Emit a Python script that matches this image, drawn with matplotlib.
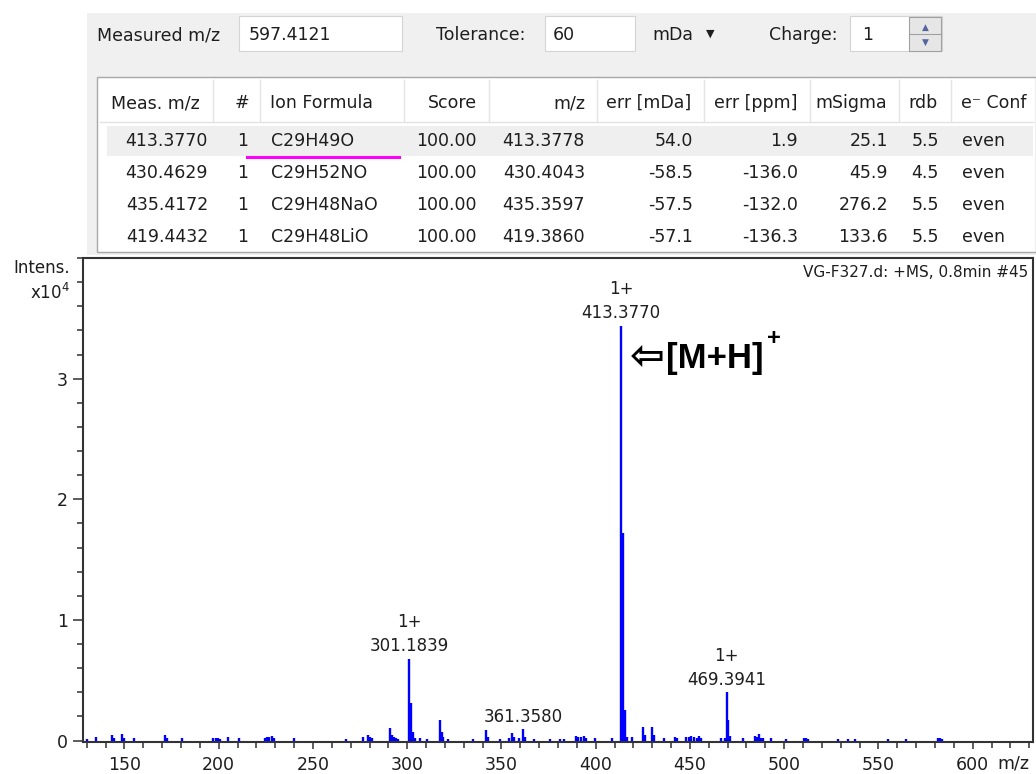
import matplotlib
matplotlib.use('Agg')
import matplotlib.pyplot as plt
from matplotlib.patches import Rectangle
from matplotlib.lines import Line2D
from matplotlib.ticker import MultipleLocator, FixedLocator

W, H = 1036, 774

# ---- formula search table ----
measured_mz = '597.4121'
tolerance = '60'
tol_unit = 'mDa'
charge = '1'

col_names = ['Meas. m/z', '#', 'Ion Formula', 'Score', 'm/z', 'err [mDa]',
             'err [ppm]', 'mSigma', 'rdb', 'e\u207b Conf']
meas_mz = ['413.3770', '430.4629', '435.4172', '419.4432']
rank = ['1', '1', '1', '1']
ion_formula = ['C29H49O', 'C29H52NO', 'C29H48NaO', 'C29H48LiO']
score = ['100.00', '100.00', '100.00', '100.00']
calc_mz = ['413.3778', '430.4043', '435.3597', '419.3860']
err_mda = ['54.0', '-58.5', '-57.5', '-57.1']
err_ppm = ['1.9', '-136.0', '-132.0', '-136.3']
msigma = ['25.1', '45.9', '276.2', '133.6']
rdb = ['5.5', '4.5', '5.5', '5.5']
e_conf = ['even', 'even', 'even', 'even']

# ---- spectrum (intensity in units of 1e4) ----
peak_mz = [130.0, 135.0, 143.6, 144.6, 148.6, 149.6, 154.8, 171.3, 172.3, 180.5,
           196.9, 198.3, 199.7, 200.9, 205.1, 210.8, 224.3, 225.5, 226.8, 228.2,
           229.1, 240.2, 267.5, 276.4, 279.3, 280.2, 281.2, 290.9, 291.9, 293.0,
           294.1, 295.1, 302.19, 303.19, 304.2, 306.6, 310.5, 317.2, 318.2, 319.2,
           321.4, 335.0, 341.7, 342.7, 349.1, 354.0, 355.4, 356.4, 359.5, 362.4,
           367.2, 376.0, 381.3, 383.0, 389.7, 390.8, 392.0, 393.6, 394.6, 399.4,
           408.6, 414.38, 415.38, 416.4, 419.3, 425.1, 426.1, 430.1, 431.1, 436.2,
           442.1, 443.2, 447.7, 449.5, 450.5, 452.1, 453.6, 454.9, 456.0, 466.3,
           468.4, 470.4, 471.4, 478.4, 484.6, 485.6, 486.4, 487.5, 488.5, 492.8,
           501.0, 510.4, 511.4, 512.4, 528.6, 533.8, 537.4, 555.0, 564.8, 581.6,
           582.6, 583.5]
peak_int = [0.016, 0.028, 0.042, 0.022, 0.055, 0.022, 0.018, 0.045, 0.022, 0.018,
            0.018, 0.018, 0.018, 0.016, 0.028, 0.018, 0.018, 0.028, 0.032, 0.038,
            0.022, 0.018, 0.016, 0.028, 0.045, 0.028, 0.018, 0.100, 0.045, 0.028,
            0.022, 0.016, 0.310, 0.070, 0.022, 0.022, 0.016, 0.170, 0.070, 0.028,
            0.016, 0.016, 0.085, 0.032, 0.016, 0.020, 0.065, 0.032, 0.018, 0.032,
            0.016, 0.016, 0.016, 0.016, 0.038, 0.028, 0.032, 0.038, 0.020, 0.020,
            0.018, 1.720, 0.250, 0.032, 0.028, 0.110, 0.050, 0.115, 0.045, 0.022,
            0.028, 0.020, 0.028, 0.032, 0.040, 0.032, 0.022, 0.038, 0.022, 0.018,
            0.020, 0.170, 0.040, 0.018, 0.040, 0.032, 0.055, 0.022, 0.018, 0.018,
            0.016, 0.018, 0.018, 0.016, 0.016, 0.016, 0.016, 0.016, 0.016, 0.018,
            0.018, 0.016]

label_mz = [301.1839, 361.3580, 413.3770, 469.3941]
label_int = [0.68, 0.094, 3.44, 0.40]
label_charge = ['1+', '', '1+', '1+']

x_ticks = [150, 200, 250, 300, 350, 400, 450, 500, 550, 600]
y_ticks = [0, 1, 2, 3]

TXT = '#1e1e1e'
UI_FS = 12.5

fig = plt.figure(figsize=(W / 100, H / 100), dpi=100)
fig.patch.set_facecolor('white')


def fbox(x0, y0, x1, y1, fc, ec='none', lw=1.0, z=1):
    fig.add_artist(Rectangle((x0 / W, 1 - y1 / H), (x1 - x0) / W, (y1 - y0) / H,
                             transform=fig.transFigure, facecolor=fc,
                             edgecolor=ec, linewidth=lw, zorder=z))


def fline(x0, y0, x1, y1, color, lw=1.0, z=2):
    fig.add_artist(Line2D([x0 / W, x1 / W], [1 - y0 / H, 1 - y1 / H],
                          transform=fig.transFigure, color=color, lw=lw, zorder=z))


def ftext(x, y, s, ha='left', size=UI_FS, **kw):
    fig.text(x / W, 1 - y / H, s, ha=ha, va='center', fontsize=size,
             color=kw.pop('color', TXT), zorder=5, **kw)


# top control bar
fbox(87, 13, 1036, 255, '#f0f0f0', z=0)
ftext(97, 35, 'Measured m/z')
fbox(239, 16, 402, 51, 'white', '#d4d4d4', 0.8)
ftext(249, 35, measured_mz)
ftext(436, 35, 'Tolerance:')
fbox(545, 16, 635, 51, 'white', '#d4d4d4', 0.8)
ftext(553, 35, tolerance)
ftext(652, 35, tol_unit)
ftext(710, 34, '\u25bc', ha='center', size=8)
ftext(769, 35, 'Charge:')
fbox(850, 16, 942, 51, 'white', '#d4d4d4', 0.8)
ftext(862, 35, charge)
fbox(909, 17, 941, 51, '#e6e6e6', '#a0a0a0', 0.8, z=2)
fline(909, 34, 941, 34, '#a0a0a0', 0.8, z=3)
ftext(925, 27, '\u25b2', ha='center', size=6.5, color='#55659f')
ftext(925, 42, '\u25bc', ha='center', size=6.5, color='#55659f')

# result table
fbox(97, 77, 1036, 252, 'white', '#a8a8a8', 1.0)
fline(100, 122, 1033, 122, '#e2e2e2', 1.0)
for sx in [213, 260, 404, 489, 597, 704, 810, 899, 951]:
    fline(sx, 80, sx, 121, '#e4e4e4', 1.0)
fbox(107, 126, 1033, 156, '#efefef', z=1.5)
fline(247, 157, 399, 157, '#ff00ff', 2.2, z=3)

# column anchor (x position, alignment)
cols = [(208, 'right'), (243, 'center'), (271, 'left'), (477, 'right'),
        (585, 'right'), (693, 'right'), (798, 'right'), (888, 'right'),
        (939, 'right'), (962, 'left')]
head_x = [111, 242, 270, 477, 585, 691, 797, 887, 938, 961]
head_ha = ['left', 'center', 'left', 'right', 'right', 'right', 'right', 'right', 'right', 'left']
for name, hx, ha in zip(col_names, head_x, head_ha):
    ftext(hx, 103, name, ha=ha, family=['DejaVu Sans'])

row_y = [141.5, 173, 205, 236.5]
table_cols = [meas_mz, rank, ion_formula, score, calc_mz, err_mda, err_ppm,
              msigma, rdb, e_conf]
for (cx, ha), values in zip(cols, table_cols):
    for ry, v in zip(row_y, values):
        ftext(cx, ry, v, ha=ha)

# ---- mass spectrum ----
ax = fig.add_axes([83 / W, 1 - 742 / H, (1033 - 83) / W, (742 - 258) / H])
ax.set_facecolor('white')

all_mz = peak_mz + label_mz
all_int = peak_int + label_int
ax.vlines(all_mz, 0, all_int, colors='#0000ff', linewidth=1.7, zorder=3)

ax.set_xlim(128, 632)
ax.set_ylim(-0.012, 4.0)

ax.xaxis.set_major_locator(FixedLocator(x_ticks))
ax.xaxis.set_minor_locator(MultipleLocator(10))
ax.yaxis.set_major_locator(FixedLocator(y_ticks))
ax.yaxis.set_minor_locator(MultipleLocator(0.2))
ax.tick_params(which='both', direction='out', color='#303030', width=1.1,
               labelcolor=TXT, labelsize=12.5)
ax.tick_params(axis='x', which='major', length=5, pad=5)
ax.tick_params(axis='x', which='minor', length=4.3)
ax.tick_params(axis='y', which='major', length=7, pad=4)
ax.tick_params(axis='y', which='minor', length=4.3)
for sp in ax.spines.values():
    sp.set_color('#333333')
    sp.set_linewidth(1.5)

for mz, inten, chg in zip(label_mz, label_int, label_charge):
    txt = f'{chg}\n{mz:.4f}' if chg else f'{mz:.4f}'
    ax.annotate(txt, xy=(mz, inten), xytext=(0, 2.5), textcoords='offset points',
                ha='center', va='bottom', fontsize=12, color=TXT,
                linespacing=1.45, zorder=4)

ax.text(0.995, 0.985, 'VG-F327.d: +MS, 0.8min #45', transform=ax.transAxes,
        ha='right', va='top', fontsize=11, color=TXT)

# [M+H]+ marker on the base peak
base_mz = label_mz[2]
ax.text(base_mz + 4.6, 3.18, '\u21e6', ha='left', va='center', fontsize=30,
        fontweight='bold', family='DejaVu Sans', color='black')
ax.text(base_mz + 23.8, 3.17, '[M+H]', ha='left', va='center', fontsize=25,
        fontweight='bold', family='Liberation Sans', color='black')
ax.text(base_mz + 77.3, 3.33, '+', ha='left', va='center', fontsize=17,
        fontweight='bold', family='Liberation Sans', color='black')

fig.text(70 / W, 1 - 268 / H, 'Intens.', ha='right', va='center', fontsize=12, color=TXT)
fig.text(70 / W, 1 - 293 / H, r'x10$^{4}$', ha='right', va='center', fontsize=12, color=TXT)
fig.text(1013 / W, 1 - 763 / H, 'm/z', ha='center', va='center', fontsize=12.5, color=TXT)

fig.savefig('out.png', dpi=100)
